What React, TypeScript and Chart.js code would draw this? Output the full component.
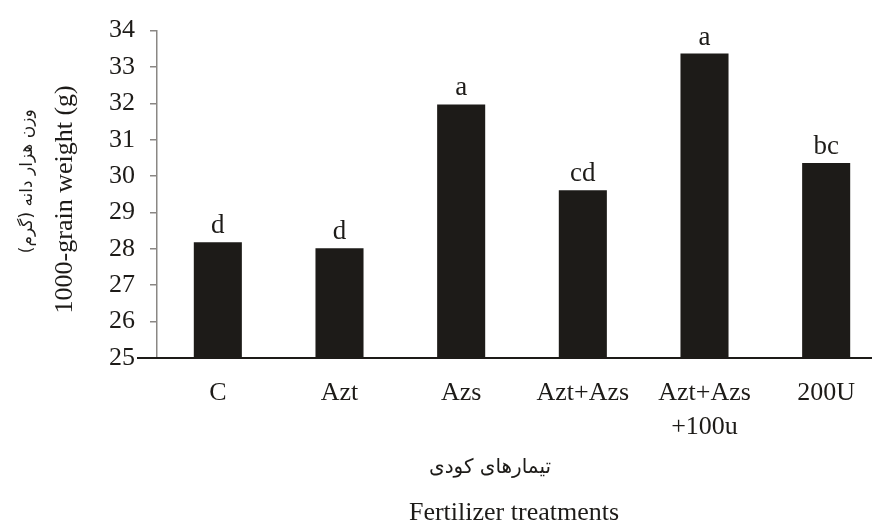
import React, { useEffect, useRef } from 'react';
import { Chart, registerables } from 'chart.js';

Chart.register(...registerables);

const categories: (string | string[])[] = ['C', 'Azt', 'Azs', 'Azt+Azs', ['Azt+Azs', '+100u'], '200U'];
const grainWeight = [28.18, 28.02, 31.97, 29.61, 33.37, 30.36];
const groupLetters = ['d', 'd', 'a', 'cd', 'a', 'bc'];
const yMin = 25;
const yMax = 34;
const yStep = 1;
const yTitleFa = 'وزن هزار دانه (گرم)';
const yTitleEn = '1000-grain weight (g)';
const xTitleFa = 'تیمارهای کودی';
const xTitleEn = 'Fertilizer treatments';

const SERIF = '"Liberation Serif", "Times New Roman", serif';
const FA = '"DejaVu Sans", "Liberation Serif", sans-serif';
const INK = '#1d1b18';

const extrasPlugin = {
  id: 'extras',
  afterDatasetsDraw(chart: any) {
    const ctx = chart.ctx;
    const meta = chart.getDatasetMeta(0);
    ctx.save();
    ctx.fillStyle = INK;
    ctx.font = `27px ${SERIF}`;
    ctx.textAlign = 'center';
    ctx.textBaseline = 'alphabetic';
    meta.data.forEach((bar: any, i: number) => {
      ctx.fillText(groupLetters[i], bar.x, bar.y - 9);
    });
    ctx.restore();
  },
  afterDraw(chart: any) {
    const ctx = chart.ctx;
    const ca = chart.chartArea;
    ctx.save();
    // baseline
    ctx.strokeStyle = INK;
    ctx.lineWidth = 2;
    ctx.beginPath();
    ctx.moveTo(ca.left - 20, ca.bottom);
    ctx.lineTo(chart.width, ca.bottom);
    ctx.stroke();

    const midY = (ca.top + ca.bottom) / 2;
    ctx.fillStyle = INK;
    ctx.textAlign = 'center';
    ctx.textBaseline = 'middle';
    // y title English
    ctx.save();
    ctx.translate(ca.left - 92, midY + 5);
    ctx.rotate(-Math.PI / 2);
    ctx.font = `26px ${SERIF}`;
    ctx.fillText(yTitleEn, 0, 0);
    ctx.restore();
    // y title Persian
    ctx.save();
    ctx.translate(ca.left - 129, midY - 13);
    ctx.rotate(-Math.PI / 2);
    ctx.font = `17px ${FA}`;
    (ctx as any).direction = 'rtl';
    ctx.fillText(yTitleFa, 0, 0);
    ctx.restore();

    const midX = (ca.left + ca.right) / 2;
    // x title Persian
    ctx.save();
    ctx.font = `20px ${FA}`;
    (ctx as any).direction = 'rtl';
    ctx.fillText(xTitleFa, midX - 32, ca.bottom + 110);
    ctx.restore();
    // x title English
    ctx.font = `26px ${SERIF}`;
    ctx.fillText(xTitleEn, midX - 8, ca.bottom + 155);
    ctx.restore();
  },
};

export default function App() {
  const ref = useRef<HTMLCanvasElement>(null);
  useEffect(() => {
    if (!ref.current) return;
    const chart = new Chart(ref.current, {
      type: 'bar',
      data: {
        labels: categories,
        datasets: [
          {
            data: grainWeight,
            backgroundColor: INK,
            borderWidth: 0,
            categoryPercentage: 1,
            barPercentage: 0.395,
          },
        ],
      },
      options: {
        responsive: false,
        animation: false,
        layout: { padding: { top: 27, right: 13, left: 0, bottom: 0 } },
        plugins: { legend: { display: false }, tooltip: { enabled: false } },
        scales: {
          x: {
            grid: { display: false },
            border: { display: false },
            ticks: {
              color: INK,
              font: { family: SERIF, size: 26, lineHeight: 1.3 },
              padding: 10,
              maxRotation: 0,
              autoSkip: false,
            },
            afterFit: (s: any) => {
              s.height = 167;
            },
          },
          y: {
            min: yMin,
            max: yMax,
            grid: { drawOnChartArea: false, drawTicks: true, tickLength: 7, color: '#8a8784', lineWidth: 1.5 },
            border: { display: true, color: '#8a8784', width: 1.5 },
            ticks: {
              stepSize: yStep,
              color: INK,
              font: { family: SERIF, size: 26 },
              padding: 15,
            },
            afterFit: (s: any) => {
              s.width = 157;
            },
          },
        },
      },
      plugins: [extrasPlugin],
    });
    return () => chart.destroy();
  }, []);
  return (
    <div style={{ position: 'fixed', left: 0, top: 0, width: 872, height: 525, overflow: 'hidden', background: '#fff' }}>
      <canvas ref={ref} width={900} height={525} style={{ display: 'block' }} />
    </div>
  );
}
